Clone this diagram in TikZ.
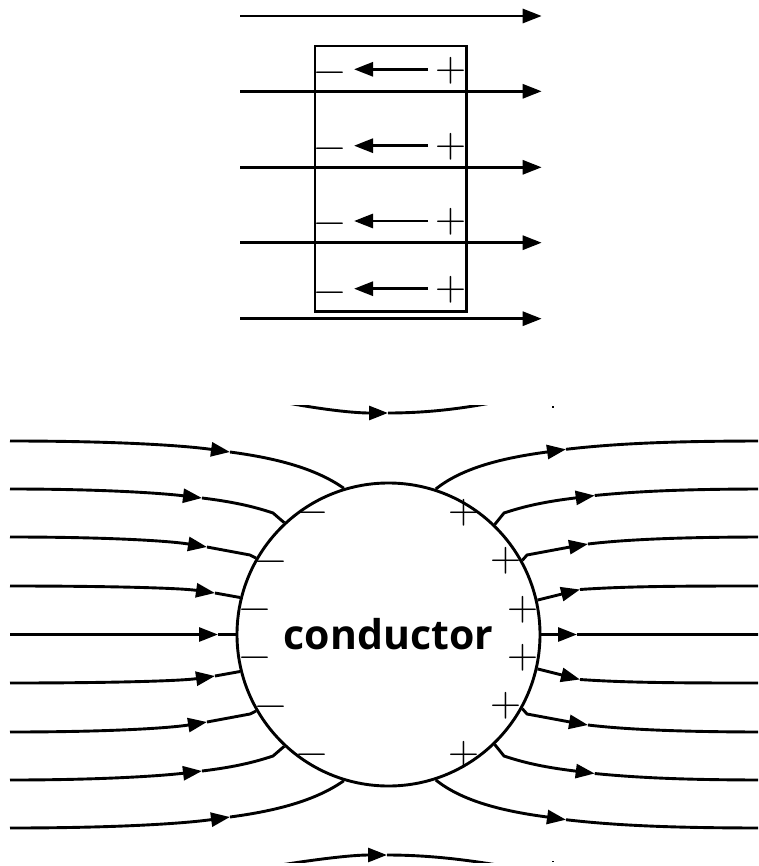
\documentclass[tikz,border=0pt]{standalone}
\usepackage{fontspec}
\newfontfamily\condfont{Open Sans}
\usetikzlibrary{arrows.meta}
\begin{document}
\begin{tikzpicture}[x=1pt,y=-1pt,
  fl/.style={line width=2.9pt},
  arr/.style={-{Triangle[length=19pt,width=14pt]}},
  sgn/.style={anchor=base, inner sep=0pt, outer sep=0pt, font=\fontsize{43}{43}\selectfont},
  boxst/.style={draw, line width=2.9pt, inner sep=0pt, minimum width=151.7pt, minimum height=265.7pt},
  condst/.style={draw, circle, line width=2.9pt, inner sep=0pt, minimum size=303pt,
    font=\condfont\bfseries\fontsize{41}{41}\selectfont}]
\useasboundingbox (0,0) rectangle (758,866);
\clip (0,0) rectangle (758,866);

% ---------------- top: slab in uniform field ----------------
\node[boxst] (box) at (390.85,178.85) {};
\foreach \y [count=\i] in {16,91.3,167.3,242.7,318.7} {
  \coordinate (fa\i) at (240,\y);
  \coordinate (fb\i) at (541.7,\y);
  \draw[fl,arr] (fa\i) -- (fb\i);
}
\foreach \ya/\yp/\ym [count=\i] in {69.3/71/72.7, 145.7/146.7/148.3, 221/221.7/224, 288.7/290/292.3} {
  \coordinate (da\i) at (428,\ya);
  \coordinate (db\i) at (354,\ya);
  \draw[fl,arr] (da\i) -- (db\i);
  \node[sgn] (bp\i) at (451,\yp+10.75) {+};
  \node[sgn] (bm\i) at (330,\ym+10.75) {−};
}

% ---------------- bottom: conductor ----------------
\node[condst] (cond) at (388.5,634.5) {conductor};

% charges
\foreach \x/\y [count=\i] in {311.7/513, 270.8/561.5, 254.5/609.5, 254.5/658, 270.8/706.5, 311.7/755} {
  \node[sgn] (m\i) at (\x,\y+10.75) {−};
}
\foreach \x/\y [count=\i] in {464/513, 506/561, 522.7/609.5, 522.7/657.5, 506/705.5, 464/754.5} {
  \node[sgn] (p\i) at (\x,\y+10.75) {+};
}

% partial lines above and below (cut by the frame)
\begin{scope}
\clip (0,405) rectangle (758,862);
\draw[fl,arr] (262,398) .. controls (310,408) and (350,413) .. (388,413);
\draw[fl] (388,413) .. controls (430,413) and (470,408) .. (515,398);
\draw[fl,arr] (262,868) .. controls (310,860) and (350,855) .. (387,855);
\draw[fl] (387,855) .. controls (430,855) and (470,860) .. (515,868);
\end{scope}
\fill (551.5,406.3) rectangle (554,408.3);
\fill (551.5,861) rectangle (554,862);

% left field lines (incoming)
\draw[fl,arr] (10,441) .. controls (110,441) and (180,445) .. (230,452);
\draw[fl] (230,452) .. controls (275,458) and (315,468) .. (cond.107.4);
\draw[fl,arr] (10,489) .. controls (100,489) and (160,493) .. (202,498);
\draw[fl] (202,498) .. controls (235,502) and (255,507) .. (273,513) -- (cond.133.9);
\draw[fl,arr] (10,537) .. controls (110,537) and (170,541) .. (207,547);
\draw[fl] (207,547) -- (250,555) -- (cond.150.5);
\draw[fl,arr] (10,586) .. controls (110,586) and (180,588) .. (215,593);
\draw[fl] (215,593) -- (cond.166.6);
\draw[fl,arr] (10,634.5) -- (218,634.5);
\draw[fl] (218,634.5) -- (cond.180);
\draw[fl,arr] (10,683) .. controls (110,683) and (180,681) .. (215,676);
\draw[fl] (215,676) -- (cond.-166.6);
\draw[fl,arr] (10,732) .. controls (110,732) and (170,728) .. (207,722);
\draw[fl] (207,722) -- (250,714) -- (cond.-150.5);
\draw[fl,arr] (10,780) .. controls (100,780) and (160,776) .. (202,771);
\draw[fl] (202,771) .. controls (235,767) and (255,762) .. (273,756) -- (cond.-133.9);
\draw[fl,arr] (10,828) .. controls (110,828) and (180,824) .. (230,817);
\draw[fl] (230,817) .. controls (275,811) and (315,801) .. (cond.-107.4);

% right field lines (outgoing)
\draw[fl,arr] (cond.72.6) .. controls (462,468) and (502,458) .. (547,452) -- (566,449.3);
\draw[fl] (566,449.3) .. controls (620,443) and (680,441) .. (767,441);
\draw[fl,arr] (cond.46.1) -- (504,513) .. controls (522,507) and (542,502) .. (575,498) -- (594.7,495.5);
\draw[fl] (594.7,495.5) .. controls (640,491) and (690,489) .. (767,489);
\draw[fl,arr] (cond.29.5) -- (527,555) -- (570,547) -- (588,544);
\draw[fl] (588,544) .. controls (630,539) and (690,537) .. (767,537);
\draw[fl,arr] (cond.13.4) -- (580,589.5);
\draw[fl] (580,589.5) .. controls (630,586) and (690,586) .. (767,586);
\draw[fl,arr] (cond.0) -- (577,634.5);
\draw[fl] (577,634.5) -- (767,634.5);
\draw[fl,arr] (cond.-13.4) -- (580,679.5);
\draw[fl] (580,679.5) .. controls (630,683) and (690,683) .. (767,683);
\draw[fl,arr] (cond.-29.5) -- (527,714) -- (570,722) -- (588,725);
\draw[fl] (588,725) .. controls (630,730) and (690,732) .. (767,732);
\draw[fl,arr] (cond.-46.1) -- (504,756) .. controls (522,762) and (542,767) .. (575,771) -- (594.7,773.5);
\draw[fl] (594.7,773.5) .. controls (640,778) and (690,780) .. (767,780);
\draw[fl,arr] (cond.-72.6) .. controls (462,801) and (502,811) .. (547,817) -- (566,819.7);
\draw[fl] (566,819.7) .. controls (620,826) and (680,828) .. (767,828);
\end{tikzpicture}
\end{document}
